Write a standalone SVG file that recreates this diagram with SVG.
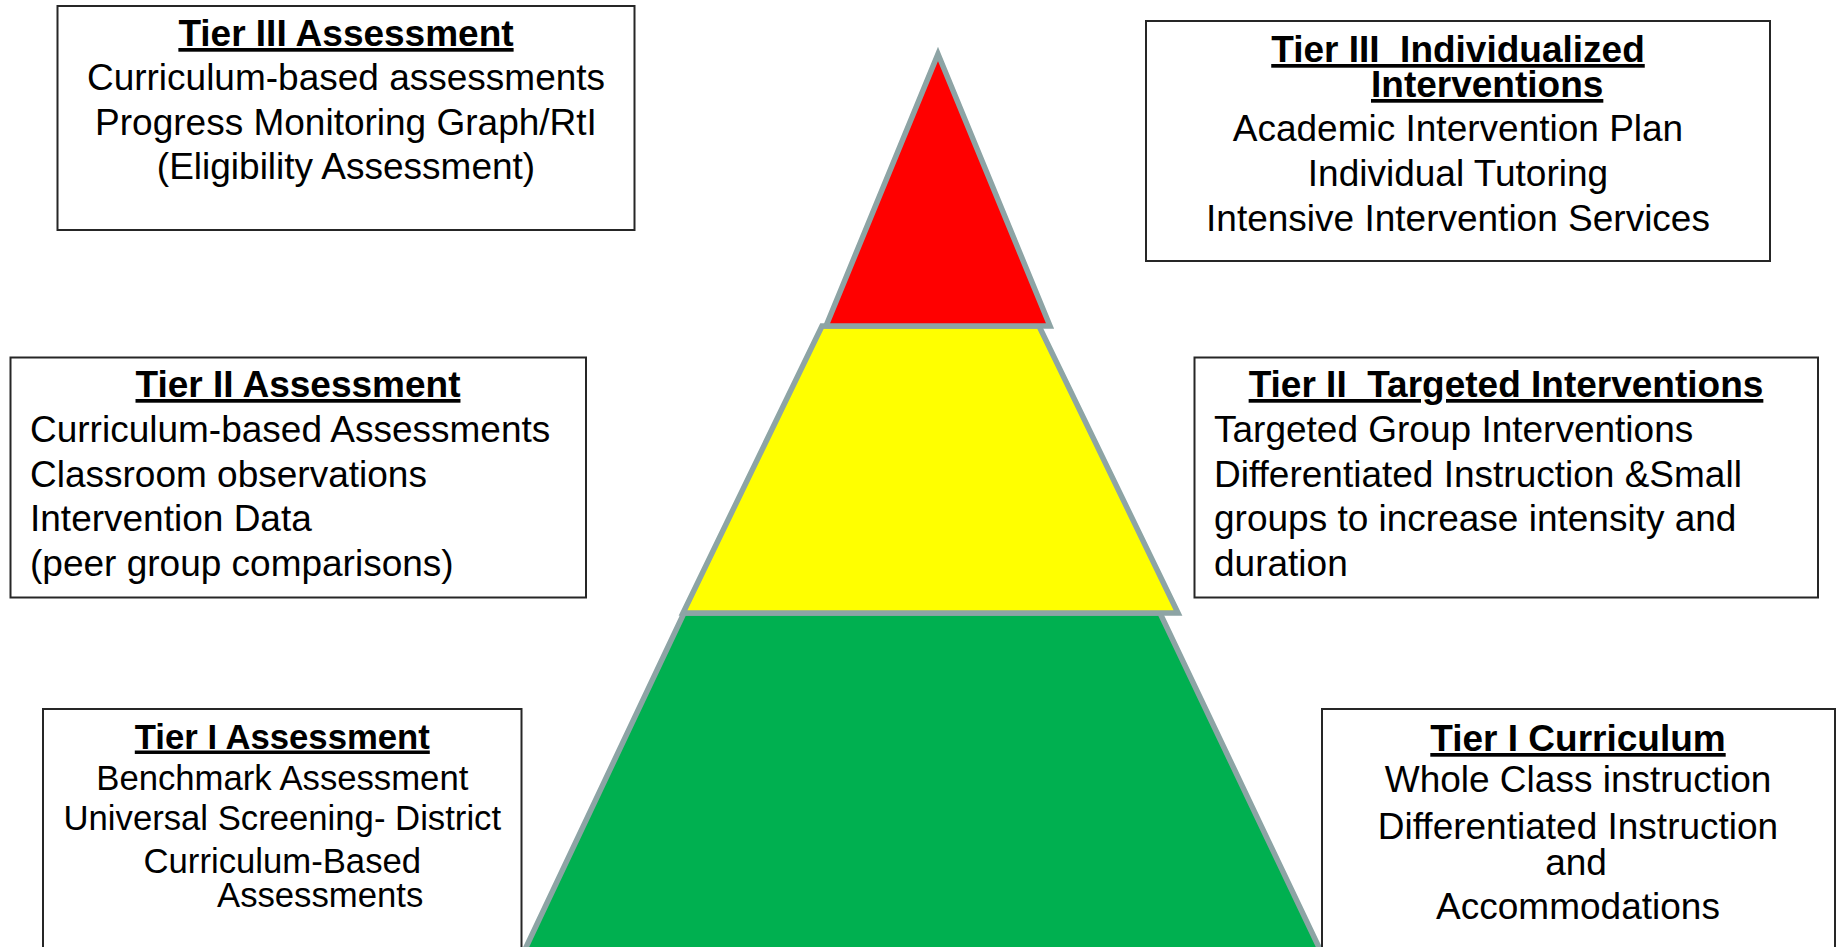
<svg xmlns="http://www.w3.org/2000/svg" width="1837" height="947" viewBox="0 0 1837 947">
  <style>
    .box { fill: #ffffff; stroke: #262626; stroke-width: 2; }
    .tier { stroke: #8da4a5; stroke-width: 5.5; stroke-linejoin: miter; }
    .t { font-family: "Liberation Sans", Arial, sans-serif; font-size: 37px; fill: #000000; white-space: pre; }
    .sm { font-size: 34.7px; }
    .h { font-weight: bold; text-decoration: underline; }
    .c { text-anchor: middle; }
  </style>
  <rect width="1837" height="947" fill="#ffffff"/>

  <!-- pyramid, bottom tier first -->
  <g id="tier1-base">
    <polygon class="tier" fill="#00b050" points="684,613 1160,613 1325,960 520,960"/>
  </g>
  <g id="tier2-middle">
    <polygon class="tier" fill="#ffff00" points="822,326 1039,326 1178,613 683,613"/>
  </g>
  <g id="tier3-top">
    <polygon class="tier" fill="#ff0000" points="938,54 1050,326 826,326"/>
  </g>

  <g id="tier3-assessment">
    <rect class="box" x="57.5" y="6" width="577" height="224"/>
    <text class="t h c" x="346" y="46">Tier III Assessment</text>
    <text class="t c" x="346" y="90">Curriculum-based assessments</text>
    <text class="t c" x="346" y="135">Progress Monitoring Graph/RtI</text>
    <text class="t c" x="346" y="179">(Eligibility Assessment)</text>
  </g>

  <g id="tier3-interventions">
    <rect class="box" x="1146" y="21" width="624" height="240"/>
    <text class="t h c" x="1458" y="62">Tier III  Individualized</text>
    <text class="t h" x="1371" y="97">Interventions</text>
    <text class="t c" x="1458" y="141">Academic Intervention Plan</text>
    <text class="t c" x="1458" y="186">Individual Tutoring</text>
    <text class="t c" x="1458" y="231">Intensive Intervention Services</text>
  </g>

  <g id="tier2-assessment">
    <rect class="box" x="10.5" y="357.5" width="575.5" height="240"/>
    <text class="t h c" x="298" y="397">Tier II Assessment</text>
    <text class="t" x="30" y="442">Curriculum-based Assessments</text>
    <text class="t" x="30" y="486.5">Classroom observations</text>
    <text class="t" x="30" y="531">Intervention Data</text>
    <text class="t" x="30" y="575.5">(peer group comparisons)</text>
  </g>

  <g id="tier2-interventions">
    <rect class="box" x="1194.5" y="357.5" width="623.5" height="240"/>
    <text class="t h c" x="1506" y="397">Tier II  Targeted Interventions</text>
    <text class="t" x="1214" y="442">Targeted Group Interventions</text>
    <text class="t" x="1214" y="486.5">Differentiated Instruction &amp;Small</text>
    <text class="t" x="1214" y="531">groups to increase intensity and</text>
    <text class="t" x="1214" y="575.5">duration</text>
  </g>

  <g id="tier1-assessment">
    <rect class="box" x="43" y="709" width="478.5" height="260"/>
    <text class="t sm h c" x="282.3" y="748.5">Tier I Assessment</text>
    <text class="t sm c" x="282.3" y="789.5">Benchmark Assessment</text>
    <text class="t sm c" x="282.3" y="830">Universal Screening- District</text>
    <text class="t sm c" x="282.3" y="873">Curriculum-Based</text>
    <text class="t sm" x="217" y="906.5">Assessments</text>
  </g>

  <g id="tier1-curriculum">
    <rect class="box" x="1322" y="709" width="513" height="260"/>
    <text class="t h c" x="1578" y="751">Tier I Curriculum</text>
    <text class="t c" x="1578" y="792">Whole Class instruction</text>
    <text class="t c" x="1578" y="838.5">Differentiated Instruction</text>
    <text class="t c" x="1576" y="875">and</text>
    <text class="t c" x="1578" y="918.5">Accommodations</text>
  </g>
</svg>
